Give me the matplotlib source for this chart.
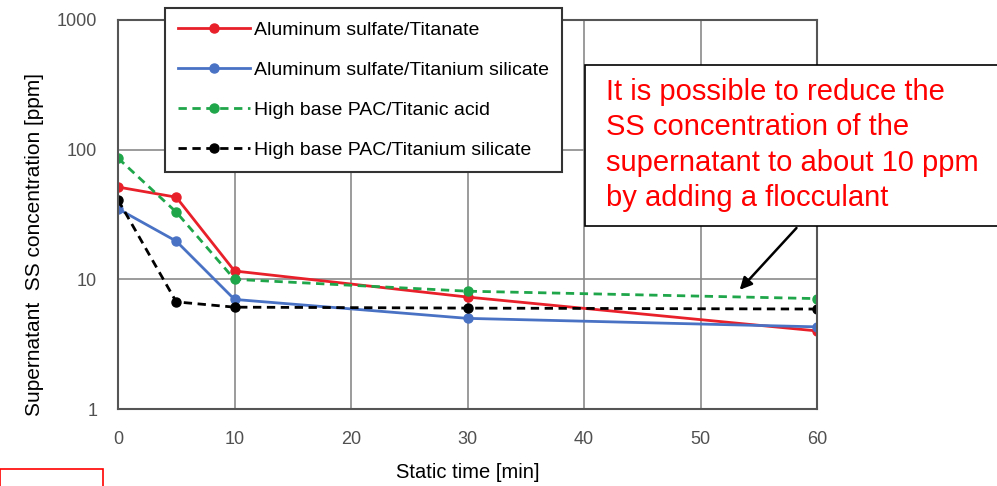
import numpy as np
import matplotlib.pyplot as plt
from matplotlib.patches import Rectangle

plt.rcParams['font.family'] = ['Liberation Sans', 'DejaVu Sans']

# Settling data: SS concentration vs static time
time_min = [0, 5, 10, 30, 60]
al_titanate = [51.5, 43, 11.6, 7.3, 4.0]
al_ti_silicate = [35, 19.7, 7.0, 5.0, 4.3]
pac_titanic = [86, 33, 10.0, 8.1, 7.1]
pac_ti_silicate = [41, 6.7, 6.1, 6.0, 5.9]

labels = ['Aluminum sulfate/Titanate', 'Aluminum sulfate/Titanium silicate',
          'High base PAC/Titanic acid', 'High base PAC/Titanium silicate']
note = ('It is possible to reduce the\nSS concentration of the\n'
        'supernatant to about 10 ppm\nby adding a flocculant')

W, H = 997, 486
fig = plt.figure(figsize=(W/100, H/100), dpi=100)
ax = fig.add_axes([118/W, 1 - 409/H, (817-118)/W, (409-20)/H])

ax.plot(time_min, al_titanate, color='#e8202a', lw=2, marker='o', ms=6.5)
ax.plot(time_min, al_ti_silicate, color='#4a72c4', lw=2, marker='o', ms=6.5)
ax.plot(time_min, pac_titanic, color='#1fa64a', lw=2, ls=(0, (3, 2)), marker='o', ms=6.5)
ax.plot(time_min, pac_ti_silicate, color='black', lw=2, ls=(0, (3, 2)), marker='o', ms=6.5)

ax.set_yscale('log')
ax.set_ylim(1, 1000)
ax.set_xlim(0, 60)
ax.set_xticks([0, 10, 20, 30, 40, 50, 60])
ax.set_yticks([1, 10, 100, 1000])
ax.set_yticklabels(['1', '10', '100', '1000'])
ax.minorticks_off()
ax.grid(True, color='#8a8a8a', lw=1.2)
ax.set_axisbelow(True)
for s in ax.spines.values():
    s.set_color('#555555')
    s.set_linewidth(1.5)
ax.tick_params(length=0, labelsize=13, labelcolor='#505050')
ax.tick_params(axis='x', pad=16)
ax.tick_params(axis='y', pad=15)

fig.text(468/W, 1 - 472/H, 'Static time [min]', ha='center', va='center', fontsize=14.5)
fig.text(35/W, 1 - 244/H, 'Supernatant  SS concentration [ppm]', ha='center', va='center',
         rotation=90, fontsize=15)

leg = fig.legend(labels, loc='upper left', bbox_to_anchor=(165/W, 1 - 8/H),
                 fontsize=14, frameon=True, fancybox=False, handlelength=3.7,
                 labelspacing=1.15, borderpad=0.68, handletextpad=0.2, borderaxespad=0)
leg.get_frame().set_edgecolor('#333333')
leg.get_frame().set_linewidth(1.5)
leg.get_frame().set_alpha(1)

# note box with arrow to the flat tails
ax.annotate('', xy=(53.2, 8.0), xytext=(58.4, 25.8),
            arrowprops=dict(arrowstyle='-|>', color='black', lw=1.8, mutation_scale=18))
fig.add_artist(Rectangle((585/W, 1 - 226/H), 420/W, 161/H, transform=fig.transFigure,
                         fc='white', ec='black', lw=1.2, clip_on=False))
fig.text(606/W, 1 - 145/H, note, ha='left', va='center', color='#ff0000',
         fontsize=21, linespacing=1.32)

fig.add_artist(Rectangle((0, -0.01), 103/W, (486-469)/H + 0.01, transform=fig.transFigure,
                         fill=False, ec='red', lw=1.2))

fig.savefig('out.png', dpi=100)
